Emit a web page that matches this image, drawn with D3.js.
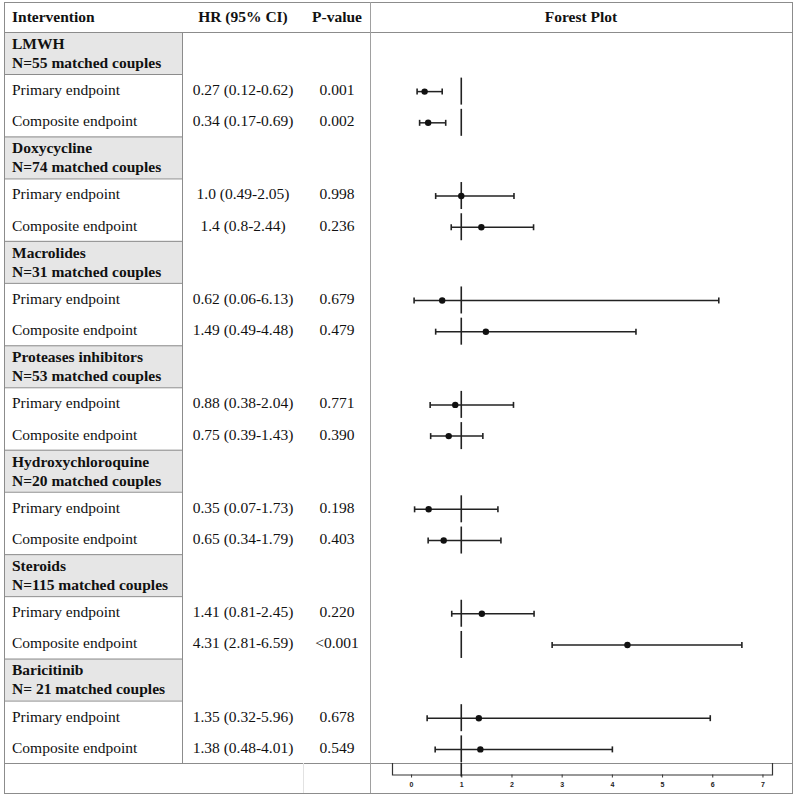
<!DOCTYPE html>
<html><head><meta charset="utf-8">
<script src="https://cdn.jsdelivr.net/npm/d3@7/dist/d3.min.js"></script>
<style>body{margin:0;background:#fff;} svg{display:block;}</style>
</head><body>
<svg id="chart" width="797" height="799"></svg>
<script>
// ---- data ----
const interventions = ["LMWH","Doxycycline","Macrolides","Proteases inhibitors","Hydroxychloroquine","Steroids","Baricitinib"];
const sampleLabels = ["N=55 matched couples","N=74 matched couples","N=31 matched couples","N=53 matched couples","N=20 matched couples","N=115 matched couples","N= 21 matched couples"];
const endpoints = ["Primary endpoint","Composite endpoint"];
const hrPrimary = [0.27,1.0,0.62,0.88,0.35,1.41,1.35];
const loPrimary = [0.12,0.49,0.06,0.38,0.07,0.81,0.32];
const hiPrimary = [0.62,2.05,6.13,2.04,1.73,2.45,5.96];
const hrComposite = [0.34,1.4,1.49,0.75,0.65,4.31,1.38];
const loComposite = [0.17,0.8,0.49,0.39,0.34,2.81,0.48];
const hiComposite = [0.69,2.44,4.48,1.43,1.79,6.59,4.01];
const hrLabelsPrimary = ["0.27 (0.12-0.62)","1.0 (0.49-2.05)","0.62 (0.06-6.13)","0.88 (0.38-2.04)","0.35 (0.07-1.73)","1.41 (0.81-2.45)","1.35 (0.32-5.96)"];
const hrLabelsComposite = ["0.34 (0.17-0.69)","1.4 (0.8-2.44)","1.49 (0.49-4.48)","0.75 (0.39-1.43)","0.65 (0.34-1.79)","4.31 (2.81-6.59)","1.38 (0.48-4.01)"];
const pPrimary = ["0.001","0.998","0.679","0.771","0.198","0.220","0.678"];
const pComposite = ["0.002","0.236","0.479","0.390","0.403","<0.001","0.549"];
const headers = ["Intervention","HR (95% CI)","P-value","Forest Plot"];
const axisTicks = [0,1,2,3,4,5,6,7];
const refValue = 1;

// ---- layout ----
const svg = d3.select("#chart");
const L=4, R=792, T=2, B=793, c1=182, cFP=370, headerB=32, bodyB=763;
const greyH=42;
const fs = 15.5;
const serif = "'Liberation Serif','Times New Roman',serif";
const ySec = d3.scaleLinear().domain([0, interventions.length]).range([headerB, bodyB]);
const secH = ySec(1)-ySec(0);
const rowH = (secH-greyH)/2;
const x = d3.scaleLinear().domain([-0.38, 7.19]).range([392, 772]);
const hrX = 243, pX = 337;
const lineCol = "#8c8c8c";

svg.append("rect").attr("width",797).attr("height",799).attr("fill","#fff");

const rows = [];
interventions.forEach((name,i)=>{
  const top = ySec(i);
  rows.push({i, top, name, sample: sampleLabels[i],
    items: [
      {ep: endpoints[0], hr: hrPrimary[i], lo: loPrimary[i], hi: hiPrimary[i], lab: hrLabelsPrimary[i], p: pPrimary[i]},
      {ep: endpoints[1], hr: hrComposite[i], lo: loComposite[i], hi: hiComposite[i], lab: hrLabelsComposite[i], p: pComposite[i]}
    ]});
});

// grey header cells
svg.selectAll("rect.grey").data(rows).join("rect").attr("class","grey")
  .attr("x",L).attr("y",d=>d.top).attr("width",c1-L).attr("height",greyH).attr("fill","#e6e6e6");

// grid lines
const g = svg.append("g").attr("stroke",lineCol).attr("stroke-width",1).attr("fill","none");
g.append("rect").attr("x",L+0.5).attr("y",T+0.5).attr("width",R-L).attr("height",B-T);
g.append("line").attr("x1",L).attr("x2",R).attr("y1",headerB+0.5).attr("y2",headerB+0.5);
g.append("line").attr("x1",L).attr("x2",R).attr("y1",bodyB+0.5).attr("y2",bodyB+0.5);
g.append("line").attr("x1",c1+0.5).attr("x2",c1+0.5).attr("y1",headerB).attr("y2",bodyB);
g.append("line").attr("x1",cFP+0.5).attr("x2",cFP+0.5).attr("y1",T).attr("y2",B).attr("stroke","#a0a0a0");
g.append("line").attr("x1",303.5).attr("x2",303.5).attr("y1",bodyB).attr("y2",B).attr("stroke","#e2e2e2");
rows.forEach(r=>{
  if(r.i>0) g.append("line").attr("x1",L).attr("x2",c1).attr("y1",r.top+0.5).attr("y2",r.top+0.5);
  g.append("line").attr("x1",L).attr("x2",c1).attr("y1",r.top+greyH+0.5).attr("y2",r.top+greyH+0.5);
});

// header text
const hdr = svg.append("g").attr("font-family",serif).attr("font-weight","bold").attr("font-size",fs).attr("fill","#111");
hdr.append("text").attr("x",12).attr("y",headerB/2+1).attr("dy","0.35em").text(headers[0]);
hdr.append("text").attr("x",hrX).attr("y",headerB/2+1).attr("dy","0.35em").attr("text-anchor","middle").text(headers[1]);
hdr.append("text").attr("x",pX).attr("y",headerB/2+1).attr("dy","0.35em").attr("text-anchor","middle").text(headers[2]);
hdr.append("text").attr("x",(cFP+R)/2).attr("y",headerB/2+1).attr("dy","0.35em").attr("text-anchor","middle").text(headers[3]);

// section text
const tx = svg.append("g").attr("font-family",serif).attr("fill","#111");
rows.forEach(r=>{
  tx.append("text").attr("x",12).attr("y",r.top+11.5).attr("dy","0.35em").attr("font-weight","bold").attr("font-size",fs).text(r.name);
  tx.append("text").attr("x",12).attr("y",r.top+30.5).attr("dy","0.35em").attr("font-weight","bold").attr("font-size",fs).text(r.sample);
  r.items.forEach((it,j)=>{
    const cy = r.top+greyH+rowH*(j+0.5);
    it.cy = cy;
    tx.append("text").attr("x",12).attr("y",cy).attr("dy","0.35em").attr("font-size",fs).text(it.ep);
    tx.append("text").attr("x",hrX).attr("y",cy).attr("dy","0.35em").attr("text-anchor","middle").attr("font-size",fs).text(it.lab);
    tx.append("text").attr("x",pX).attr("y",cy).attr("dy","0.35em").attr("text-anchor","middle").attr("font-size",fs).text(it.p);
  });
});

// forest marks
const fp = svg.append("g").attr("stroke","#222").attr("fill","#111");
rows.forEach(r=>{
  r.items.forEach(it=>{
    const cy = it.cy + 2;
    fp.append("line").attr("x1",x(refValue)).attr("x2",x(refValue)).attr("y1",cy-14).attr("y2",cy+13).attr("stroke-width",1.6);
    fp.append("line").attr("x1",x(it.lo)).attr("x2",x(it.hi)).attr("y1",cy).attr("y2",cy).attr("stroke-width",1.5);
    fp.append("line").attr("x1",x(it.lo)).attr("x2",x(it.lo)).attr("y1",cy-3).attr("y2",cy+3).attr("stroke-width",1.6);
    fp.append("line").attr("x1",x(it.hi)).attr("x2",x(it.hi)).attr("y1",cy-3).attr("y2",cy+3).attr("stroke-width",1.6);
    fp.append("circle").attr("cx",x(it.hr)).attr("cy",cy).attr("r",3.2).attr("stroke","none");
  });
});

// axis
const axisY = 774.5;
const ax = svg.append("g").attr("transform",`translate(0,${axisY})`)
  .call(d3.axisBottom(x).tickValues(axisTicks).tickSize(3).tickSizeOuter(-(axisY-bodyB)).tickFormat(d3.format("d")));
ax.select(".domain").attr("stroke","#333").attr("stroke-width",1.2);
ax.selectAll(".tick line").attr("stroke","#333");
ax.selectAll(".tick text").attr("font-family","'Liberation Sans',Arial,sans-serif").attr("font-size",7).attr("font-weight","bold").attr("fill","#222").attr("dy","0.9em");
svg.append("line").attr("x1",x(refValue)).attr("x2",x(refValue)).attr("y1",bodyB).attr("y2",axisY+2).attr("stroke","#222").attr("stroke-width",1.6);
</script>
</body></html>
